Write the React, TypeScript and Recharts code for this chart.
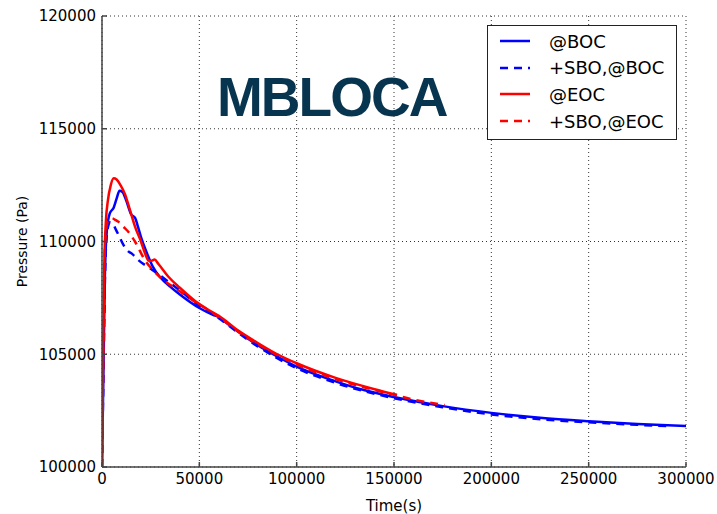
import { LineChart, Line, XAxis, YAxis, CartesianGrid } from 'recharts'

document.body.style.margin = '0'

// time (s) vs pressure (Pa)
const bocSeries: [number, number][] = [
  [0, 100000], [700, 104000], [1500, 108500], [2500, 110500], [4000, 111250],
  [6000, 111500], [7500, 111900], [9000, 112250], [10500, 112200], [12500, 111800],
  [15000, 111200], [17000, 111050], [18500, 110650], [20000, 110200], [23000, 109500],
  [26000, 108900], [30000, 108400], [35000, 108000], [40000, 107650], [50000, 107050],
  [57000, 106750], [60000, 106650], [63000, 106450], [70000, 106000], [80000, 105400],
  [90000, 104900], [100000, 104450], [120000, 103800], [135000, 103400], [150000, 103100],
  [175000, 102700], [200000, 102400], [225000, 102180], [250000, 102030], [275000, 101910],
  [300000, 101820],
]

const sboBocSeries: [number, number][] = [
  [0, 100000], [700, 104000], [1500, 108300], [2500, 110300], [4000, 110850],
  [5500, 110800], [7000, 110550], [9000, 110200], [11000, 109850], [13000, 109600],
  [15500, 109450], [19000, 109150], [24000, 108850], [29000, 108550], [34000, 108220],
  [41000, 107760], [50000, 107150], [54000, 106950], [60000, 106600], [70000, 105950],
  [80000, 105350], [100000, 104380], [120000, 103730], [150000, 103050], [175000, 102650],
  [200000, 102330], [225000, 102120], [250000, 101980], [275000, 101870], [292000, 101810],
]

const eocSeries: [number, number][] = [
  [0, 100000], [500, 104000], [1200, 109000], [2000, 110900], [3000, 111800],
  [4500, 112500], [6000, 112800], [7500, 112750], [9500, 112500], [11800, 112100],
  [14000, 111500], [17000, 110650], [20000, 110000], [22000, 109500], [24000, 109150],
  [25500, 109150], [27000, 109200], [29000, 109000], [34000, 108450], [40000, 107950],
  [48000, 107350], [55000, 106950], [60000, 106700], [70000, 106050], [80000, 105500],
  [90000, 105000], [100000, 104600], [120000, 103950], [140000, 103450], [151500, 103200],
]

const sboEocSeries: [number, number][] = [
  [0, 100000], [500, 104000], [1200, 108800], [2000, 110400], [3000, 110900],
  [5000, 111030], [7000, 110950], [8500, 110870], [11000, 110650], [13500, 110430],
  [17000, 109990], [22000, 109180], [26000, 108750], [30500, 108370], [39000, 107850],
  [50000, 107200], [53000, 107050], [60000, 106650], [70000, 106000], [80000, 105450],
  [100000, 104550], [120000, 103900], [150000, 103200], [160000, 102990], [176000, 102750],
]

const xTicks = [0, 50000, 100000, 150000, 200000, 250000, 300000]
const yTicks = [100000, 105000, 110000, 115000, 120000]

const series = [
  { name: '@BOC', points: bocSeries, color: '#0000ff', dash: undefined },
  { name: '+SBO,@BOC', points: sboBocSeries, color: '#0000ff', dash: '8 6' },
  { name: '@EOC', points: eocSeries, color: '#ff0000', dash: undefined },
  { name: '+SBO,@EOC', points: sboEocSeries, color: '#ff0000', dash: '8 6' },
]

const font = '"DejaVu Sans", sans-serif'
const tickStyle = { fontSize: 15, fill: '#000', fontFamily: font }

export default function App() {
  return (
    <div style={{ position: 'relative', width: 717, height: 514, fontFamily: font, background: '#fff' }}>
      <LineChart width={717} height={514} margin={{ top: 16, right: 31, bottom: 0, left: 0 }}>
        <CartesianGrid stroke="#333" strokeDasharray="1 3" strokeWidth={1} />
        <XAxis
          type="number"
          dataKey="t"
          domain={[0, 300000]}
          ticks={xTicks}
          interval={0}
          height={47}
          tick={tickStyle}
          tickSize={-5}
          tickMargin={11}
          stroke="#444"
          strokeWidth={1.5}
          allowDataOverflow
          label={{ value: 'Time(s)', position: 'insideBottom', offset: 3, style: { fontSize: 15, fill: '#000', fontFamily: font } }}
        />
        <YAxis
          type="number"
          dataKey="p"
          domain={[100000, 120000]}
          ticks={yTicks}
          interval={0}
          width={102}
          tick={tickStyle}
          tickSize={-5}
          tickMargin={11}
          stroke="#444"
          strokeWidth={1.5}
          allowDataOverflow
          label={{ value: 'Pressure (Pa)', angle: -90, position: 'center', dx: -29, style: { fontSize: 14, fill: '#000', fontFamily: font, textAnchor: 'middle' } }}
        />
        <XAxis xAxisId="top" orientation="top" type="number" domain={[0, 300000]} ticks={xTicks} height={0} tick={false} tickSize={-5} stroke="#444" strokeWidth={1.5} />
        <YAxis yAxisId="right" orientation="right" type="number" domain={[100000, 120000]} ticks={yTicks} width={0} tick={false} tickSize={-5} stroke="#444" strokeWidth={1.5} />
        {series.map((s) => (
          <Line
            key={s.name}
            data={s.points.map(([t, p]) => ({ t, p }))}
            dataKey="p"
            type="monotone"
            stroke={s.color}
            strokeWidth={2.5}
            strokeDasharray={s.dash}
            dot={false}
            activeDot={false}
            isAnimationActive={false}
          />
        ))}
      </LineChart>

      {/* title */}
      <div
        style={{
          position: 'absolute', left: 217, top: 66, fontFamily: '"Liberation Sans", Arial, sans-serif',
          fontWeight: 'bold', fontSize: 55, letterSpacing: -2, color: '#07344f', lineHeight: '62px',
        }}
      >
        MBLOCA
      </div>

      {/* legend */}
      <div
        style={{
          position: 'absolute', left: 487, top: 25, width: 190, height: 115, boxSizing: 'border-box',
          border: '1.5px solid #222', background: '#fff',
        }}
      >
        {series.map((s, i) => (
          <div key={s.name} style={{ position: 'absolute', left: 0, top: 2 + i * 26.7, height: 26, display: 'flex', alignItems: 'center' }}>
            <svg width={49} height={10} style={{ marginLeft: 12 }}>
              <line x1={0} y1={5} x2={30} y2={5} stroke={s.color} strokeWidth={2.5} strokeDasharray={s.dash} />
            </svg>
            <span style={{ fontSize: 18, color: '#000', whiteSpace: 'nowrap' }}>{s.name}</span>
          </div>
        ))}
      </div>
    </div>
  )
}
